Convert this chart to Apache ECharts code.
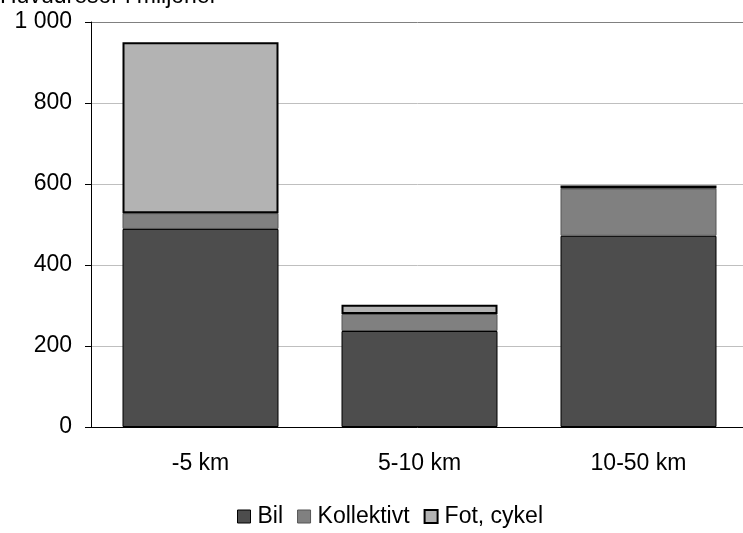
<!DOCTYPE html>
<html><head><meta charset="utf-8">
<script src="https://cdn.jsdelivr.net/npm/echarts@6/dist/echarts.min.js"></script>
<style>html,body{margin:0;padding:0;background:#fff}#c{width:743px;height:533px}</style>
</head><body><div id="c"></div>
<script>
const categories = ['-5 km', '5-10 km', '10-50 km'];
const bil = [489, 237, 472];
const kollektivt = [39, 42, 117];
const fotCykel = [422, 23, 7];
const yTicks = [0, 200, 400, 600, 800, 1000];
const titleText = 'Huvudresor i miljoner';

const chart = echarts.init(document.getElementById('c'), null, {renderer: 'canvas'});
const font = 'Liberation Sans, Arial, sans-serif';
const fs = 23;
chart.setOption({
  animation: false,
  backgroundColor: '#fff',
  textStyle: {fontFamily: font},
  graphic: [{
    type: 'text', left: 0, top: -15,
    style: {text: titleText, fontSize: fs, fontFamily: font, fill: '#000'}
  }],
  grid: {left: 91, width: 657, top: 22, bottom: 106, outerBoundsMode: 'none', containLabel: false},
  legend: {
    bottom: 0, left: 232, itemWidth: 13, itemHeight: 13, itemGap: 14,
    icon: 'rect',
    textStyle: {fontSize: fs, fontFamily: font, color: '#000', padding: [0, 0, 0, 2]},
    data: [
      {name: 'Bil', itemStyle: {borderColor: '#000', borderWidth: 1}},
      {name: 'Kollektivt', itemStyle: {borderColor: '#555', borderWidth: 1}},
      {name: 'Fot, cykel', itemStyle: {borderColor: '#000', borderWidth: 2}}
    ]
  },
  xAxis: {
    type: 'category', data: categories,
    axisLine: {lineStyle: {color: '#000', width: 1}},
    axisTick: {show: false},
    axisLabel: {fontSize: fs, color: '#000', margin: 25, fontFamily: font}
  },
  yAxis: {
    type: 'value', min: yTicks[0], max: yTicks[yTicks.length - 1], interval: 200,
    axisLine: {show: true, lineStyle: {color: '#000'}},
    axisTick: {show: true, length: 6, lineStyle: {color: '#000'}},
    axisLabel: {fontSize: fs, color: '#000', margin: 19, fontFamily: font,
      formatter: v => String(v).replace(/\B(?=(\d{3})+(?!\d))/g, ' ')},
    splitLine: {show: true, lineStyle: {color: ['#bfbfbf','#bfbfbf','#bfbfbf','#bfbfbf','#bfbfbf','#808080'], width: 1}}
  },
  series: [
    {name: 'Bil', type: 'bar', stack: 's', data: bil, barWidth: 156,
      itemStyle: {color: '#4d4d4d', borderColor: '#000', borderWidth: 1}},
    {name: 'Kollektivt', type: 'bar', stack: 's', data: kollektivt,
      itemStyle: {color: '#808080', borderColor: '#555', borderWidth: 1}},
    {name: 'Fot, cykel', type: 'bar', stack: 's', data: fotCykel,
      itemStyle: {color: '#b3b3b3', borderColor: '#000', borderWidth: 2}}
  ]
});
</script></body></html>
